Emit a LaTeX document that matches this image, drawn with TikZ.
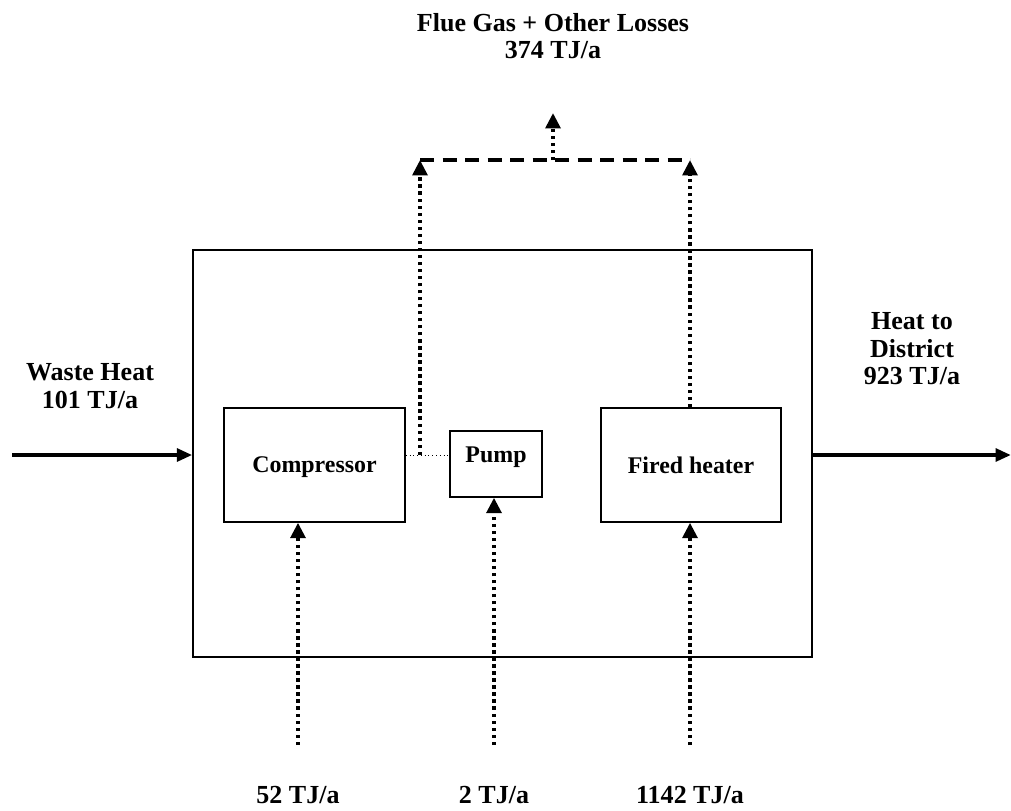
\documentclass[tikz,border=0pt]{standalone}
\usepackage{fontspec}
\setmainfont{Liberation Serif}
\usetikzlibrary{arrows.meta,positioning,calc}

\begin{document}
\begin{tikzpicture}[x=0.025cm, y=-0.025cm,
    unit/.style={draw, line width=1pt, inner sep=0pt,
                 font=\fontsize{17}{19}\selectfont\bfseries, align=center},
    flow/.style={font=\fontsize{18.5}{19.5}\selectfont\bfseries, align=center},
    solidarr/.style={line width=2.8pt, -{Triangle[length=11pt, width=9pt]}},
    dotarr/.style={line width=2.8pt, dash pattern=on 2.4pt off 2.6pt,
                   -{Triangle[length=11pt, width=10.5pt]}},
    duct/.style={line width=2.2pt, dash pattern=on 10pt off 6pt}
  ]
    \useasboundingbox (0,0) rectangle (1011,810);

    % Plant boundary
    \node[unit, minimum width=619*0.025cm, minimum height=407*0.025cm]
      (plant) at (502.5,453.5) {};

    % Units inside the plant
    \node[unit, minimum width=181*0.025cm, minimum height=114*0.025cm,
          text depth=1pt] (comp) at (314.5,465) {Compressor};
    \node[unit, minimum width=92*0.025cm, minimum height=66*0.025cm,
          text depth=13pt] (pump) at (496,464) {Pump};
    \node[unit, minimum width=180*0.025cm, minimum height=114*0.025cm]
      (heater) at (691,465) {Fired heater};

    % Waste heat in, heat to district out
    \coordinate (win) at (12,455);
    \coordinate (dout) at (1011,455);
    \draw[solidarr] (win) -- (win -| plant.west);
    \draw[solidarr] (dout -| plant.east) -- (dout);
    \node[flow] (waste) at (90,386) {Waste Heat\\101 TJ/a};
    \node[flow] (district) at (912,349) {Heat to\\District\\923 TJ/a};

    % Losses collected at the top
    \coordinate (jn) at (420,455);
    \coordinate (fl) at (420,160);
    \coordinate (fr) at (690,160);
    \coordinate (fm) at (553,160);
    \coordinate (ftop) at (553,113);
    \draw[dotted, line width=0.7pt] (comp.east |- jn) -- (pump.west |- jn);
    \draw[dotarr] (jn) -- (fl);
    \draw[dotarr] (heater.north -| fr) -- (fr);
    \draw[duct] (fl) -- (fr);
    \draw[dotarr] (fm) -- (ftop);
    \node[flow] (losses) at (553,36) {Flue Gas + Other Losses\\374 TJ/a};

    % Energy inputs from below
    \coordinate (b1) at (298,745);
    \coordinate (b2) at (494,745);
    \coordinate (b3) at (690,745);
    \draw[dotarr] (b1) -- (b1 |- comp.south);
    \draw[dotarr] (b2) -- (b2 |- pump.south);
    \draw[dotarr] (b3) -- (b3 |- heater.south);
    \node[flow] (in1) at (298,795) {52 TJ/a};
    \node[flow] (in2) at (494,795) {2 TJ/a};
    \node[flow] (in3) at (690,795) {1142 TJ/a};
\end{tikzpicture}
\end{document}
